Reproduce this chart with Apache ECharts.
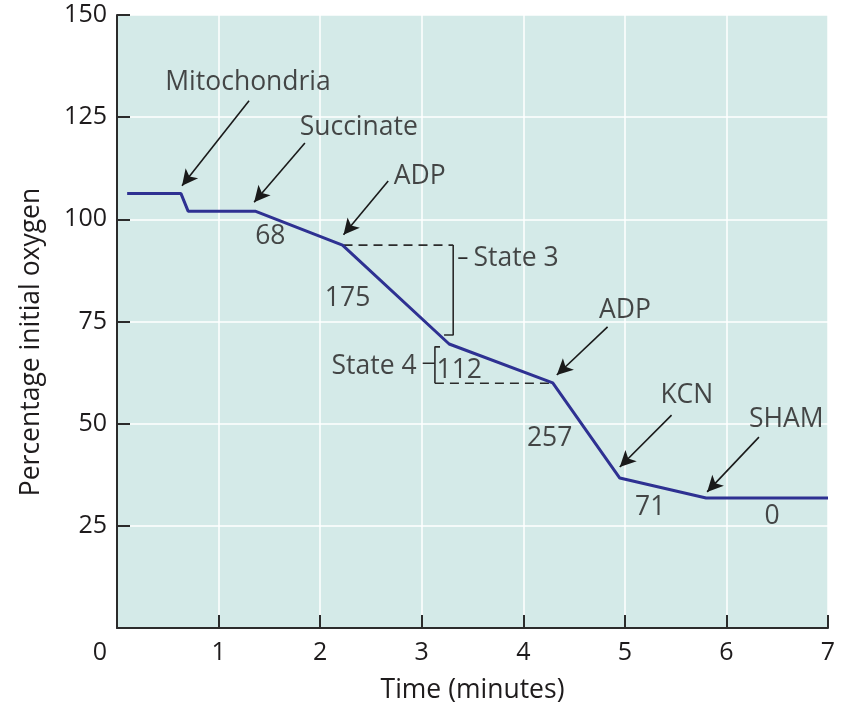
<!DOCTYPE html>
<html>
<head>
<meta charset="utf-8">
<script src="https://cdn.jsdelivr.net/npm/echarts@6/dist/echarts.min.js"></script>
<style>
html,body{margin:0;padding:0;background:#ffffff;}
#chart{width:847px;height:705px;}
</style>
</head>
<body>
<div id="chart"></div>
<script>
// ---- data ----
const timeMin   = [0.10, 0.63, 0.70, 1.36, 2.22, 3.27, 4.29, 4.95, 5.80, 7.00];
const oxygenPct = [106.3, 106.3, 102.0, 102.0, 93.7, 69.5, 60.0, 36.7, 31.8, 31.8];

const xTickValues = [0, 1, 2, 3, 4, 5, 6, 7];
const yTickValues = [25, 50, 75, 100, 125, 150];

const eventNames = ['Mitochondria', 'Succinate', 'ADP', 'ADP', 'KCN', 'SHAM'];
const eventTextAt = [[1.29, 133.4], [2.38, 122.6], [2.98, 110.4], [5.00, 77.6], [5.61, 57.0], [6.59, 51.1]];
const arrowFrom  = [[1.30, 129.0], [1.85, 118.7], [2.67, 109.4], [4.83, 73.7], [5.46, 52.1], [6.32, 46.7]];
const arrowTo    = [[0.64, 108.2], [1.35, 104.2], [2.23, 96.2], [4.33, 61.9], [4.95, 39.4], [5.81, 33.3]];

const rateNames = ['68', '175', '112', '257', '71', '0'];
const rateAt    = [[1.51, 95.7], [2.27, 80.7], [3.37, 63.1], [4.26, 46.5], [5.25, 29.6], [6.45, 27.2]];

// State brackets (data coordinates)
const state3Dashed  = [[2.23, 93.7], [3.31, 93.7]];
const state3Bracket = [[3.31, 93.7], [3.31, 71.7], [3.22, 71.7]];
const state3Dash    = [[3.36, 90.5], [3.45, 90.5]];
const state4Bracket = [[3.18, 68.8], [3.13, 68.8], [3.13, 59.9]];
const state4Dashed  = [[3.13, 59.9], [4.29, 59.9]];
const state4Dash    = [[3.01, 64.8], [3.13, 64.8]];
const stateNames = ['State 3', 'State 4'];
const stateTextAt = [[3.51, 90.5], [2.95, 63.9]];

// ---- style ----
const FONT = 'Open Sans';
const FS = 25;      // tick labels
const FT = 26.5;    // annotation / titles
const TXT = '#1e1b1c';
const INK = '#2b2b2b';

const chart = echarts.init(document.getElementById('chart'), null, {renderer: 'canvas'});

function textSeries(names, pos, align) {
  return {
    type: 'scatter',
    symbolSize: 1,
    itemStyle: {color: 'rgba(0,0,0,0)'},
    silent: true,
    z: 5,
    data: names.map((n, i) => ({name: n, value: pos[i]})),
    label: {
      show: true,
      position: 'inside',
      formatter: p => p.name,
      color: TXT,
      fontFamily: FONT,
      fontSize: FT,
      align: align || 'center',
      verticalAlign: 'middle'
    }
  };
}

function inkLine(pts, dashed) {
  return {
    type: 'line',
    data: pts,
    symbol: 'none',
    silent: true,
    z: 3,
    lineStyle: {color: INK, width: 1.6, type: dashed ? [9, 6] : 'solid'}
  };
}

const option = {
  backgroundColor: '#ffffff',
  animation: false,
  grid: {
    left: 117, right: 19, top: 15, bottom: 77,
    containLabel: false,
    outerBoundsMode: 'none',
    show: true, backgroundColor: '#d4eae8', borderWidth: 0
  },
  xAxis: {
    type: 'value',
    min: 0, max: 7, interval: 1,
    name: 'Time (minutes)',
    nameLocation: 'middle',
    nameGap: 49,
    nameTextStyle: {color: TXT, fontFamily: FONT, fontSize: FT},
    axisLine: {show: true, onZero: false, lineStyle: {color: INK, width: 2}},
    axisTick: {show: true, inside: true, length: 13, lineStyle: {color: INK, width: 2}},
    axisLabel: {
      margin: 12,
      color: TXT, fontFamily: FONT, fontSize: FS,
      formatter: v => (xTickValues.indexOf(v) >= 0 ? (v === 0 ? '{z|0}' : String(v)) : ''),
      rich: {z: {padding: [0, 34, 0, 0], color: TXT, fontFamily: FONT, fontSize: FS}}
    },
    splitLine: {show: true, lineStyle: {color: '#ffffff', width: 1.5}}
  },
  yAxis: {
    type: 'value',
    min: 0, max: 150, interval: 25,
    axisLine: {show: true, onZero: false, lineStyle: {color: INK, width: 2}},
    axisTick: {show: true, inside: true, length: 13, lineStyle: {color: INK, width: 2}},
    axisLabel: {
      margin: 10,
      color: TXT, fontFamily: FONT, fontSize: FS,
      formatter: v => (yTickValues.indexOf(v) >= 0 ? String(v) : '')
    },
    splitLine: {show: true, lineStyle: {color: '#ffffff', width: 1.5}}
  },
  graphic: [{
    type: 'text',
    x: 31, y: 342,
    rotation: Math.PI / 2,
    style: {
      text: 'Percentage initial oxygen',
      fill: TXT, font: FT + 'px "' + FONT + '"',
      textAlign: 'center', textVerticalAlign: 'middle'
    }
  }],
  series: [
    {
      type: 'line',
      data: timeMin.map((t, i) => [t, oxygenPct[i]]),
      symbol: 'none',
      z: 4,
      lineStyle: {color: '#2e3192', width: 3},
      markLine: {
        silent: true,
        symbol: ['none', 'arrow'],
        symbolSize: [12, 16],
        label: {show: false},
        lineStyle: {color: '#1a1a1a', width: 1.6, type: 'solid'},
        data: arrowFrom.map((f, i) => [{coord: f}, {coord: arrowTo[i]}])
      }
    },
    inkLine(state3Dashed, true),
    inkLine(state3Bracket, false),
    inkLine(state3Dash, false),
    inkLine(state4Bracket, false),
    inkLine(state4Dashed, true),
    inkLine(state4Dash, false),
    textSeries(eventNames, eventTextAt),
    textSeries(rateNames, rateAt),
    textSeries([stateNames[0]], [stateTextAt[0]], 'left'),
    textSeries([stateNames[1]], [stateTextAt[1]], 'right')
  ]
};
chart.setOption(option);
</script>
</body>
</html>
